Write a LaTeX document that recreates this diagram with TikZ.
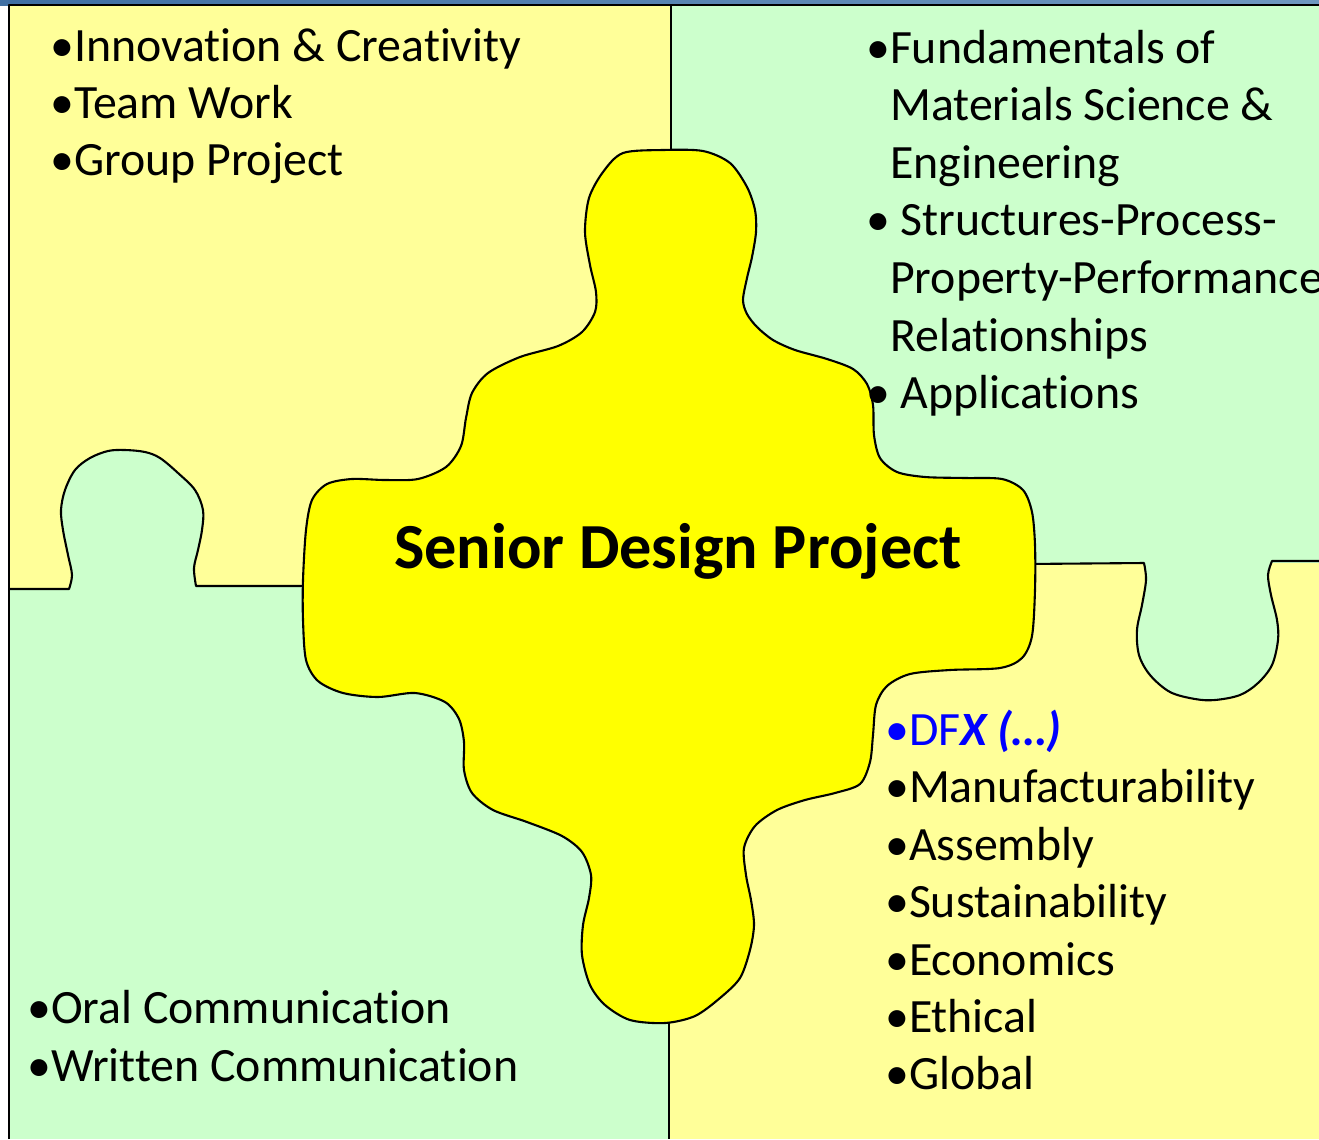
\documentclass[tikz,border=0pt]{standalone}
\usepackage{fontspec}
\setmainfont{Carlito}[Ligatures={NoCommon}]
\definecolor{ltyellow}{HTML}{FFFF99}
\definecolor{ltgreen}{HTML}{CCFFCC}
\definecolor{blobyellow}{HTML}{FFFF00}
\definecolor{dfxblue}{HTML}{0000FF}
\definecolor{stripL}{HTML}{3F6FA3}
\definecolor{stripR}{HTML}{6F98C0}
\tikzset{
  txt/.style={anchor=base west, inner sep=0pt, font=\fontsize{48}{56}\selectfont},
  title/.style={anchor=base west, inner sep=0pt, font=\fontsize{64.5}{70}\selectfont\bfseries},
  edge/.style={line width=2.1bp, line join=round},
}
\begin{document}
\begin{tikzpicture}[x=1bp,y=-1bp]
\useasboundingbox (0,0) rectangle (1319,1139);
\fill[white] (0,0) rectangle (1319,1139);
\shade[left color=stripL, right color=stripR] (0,0) rectangle (1319,5);
% quadrants
\fill[ltyellow] (9,5) rectangle (671,589);
\fill[ltgreen] (671,5) rectangle (1319,563);
\fill[ltgreen] (9,588) rectangle (669,1139);
\fill[ltyellow] (669,563) rectangle (1319,1139);
% left tab (green into yellow)
\fill[ltgreen] plot[smooth, tension=0.55] coordinates {(69,589) (72,575) (68,555) (63,530) (61,510) (65,490) (75,470) (90,458) (108,451) (125,450) (145,452) (160,458) (178,473) (195,490) (203,510) (202,530) (198,550) (194,568) (196,586)} -- (302,586) -- (302,600) -- (69,600) -- cycle;
\draw[edge] (9,589) -- plot[smooth, tension=0.55] coordinates {(69,589) (72,575) (68,555) (63,530) (61,510) (65,490) (75,470) (90,458) (108,451) (125,450) (145,452) (160,458) (178,473) (195,490) (203,510) (202,530) (198,550) (194,568) (196,586)} -- (310,586);
% right tab (green into yellow)
\fill[ltgreen] plot[smooth, tension=0.55] coordinates {(1144,563) (1146,580) (1142,605) (1137,630) (1139,655) (1150,675) (1170,692) (1195,699) (1215,700) (1240,695) (1258,683) (1272,665) (1278,640) (1277,620) (1271,595) (1268,575) (1272,561)} -- (1272,550) -- (1144,550) -- cycle;
\draw[edge] (1025,564) -- plot[smooth, tension=0.55] coordinates {(1144,563) (1146,580) (1142,605) (1137,630) (1139,655) (1150,675) (1170,692) (1195,699) (1215,700) (1240,695) (1258,683) (1272,665) (1278,640) (1277,620) (1271,595) (1268,575) (1272,561)} -- (1319,561);
% borders
\draw[edge] (9,1139) -- (9,5) -- (1319,5);
\draw[edge] (671,5) -- (671,160);
\draw[edge] (669,1010) -- (669,1139);
% central blob
\filldraw[fill=blobyellow, edge] plot[smooth cycle, tension=0.5] coordinates {
(623,153) (663,150) (703,151) (730,163) (747,187) (755,210) (756,232) (752,257) (747,278) (743,300) (747,314) (757,327) (773,340) (795,350) (827,359) (853,369) (867,384) (873,405) (874,435) (880,458) (897,472) (925,477) (965,478) (1002,479) (1023,490) (1032,512) (1035,545) (1035,590) (1032,636) (1022,658) (1000,668) (950,670) (910,674) (887,686) (876,705) (873,735) (870,762) (860,784) (835,793) (805,800) (777,810) (755,826) (744,848) (746,875) (751,900) (754,925) (750,950) (740,978) (720,998) (695,1016) (665,1023) (630,1020) (605,1005) (590,985) (582,955) (583,925) (589,898) (591,875) (582,852) (562,836) (527,822) (493,810) (472,793) (464,770) (464,742) (459,719) (445,702) (415,693) (378,697) (343,693) (318,681) (306,660) (303,620) (303,580) (306,530) (312,500) (327,484) (352,479) (385,480) (418,479) (446,467) (461,446) (466,418) (472,393) (488,373) (520,357) (558,346) (582,332) (595,312) (596,292) (590,265) (585,232) (589,198) (603,172)};
% texts
\node[txt] (tl1) at (50,61) {•Innovation \& Creativity};
\node[txt] (tl2) at (50,118) {•Team Work};
\node[txt] (tl3) at (50,175) {•Group Project};
\node[txt] (tr1) at (866,63) {•Fundamentals of};
\node[txt] (tr2) at (890,120) {Materials Science \&};
\node[txt] (tr3) at (890,178) {Engineering};
\node[txt] (tr4) at (866,235) {• Structures-Process-};
\node[txt] (tr5) at (890,293) {Property-Performance};
\node[txt] (tr6) at (890,351) {Relationships};
\node[txt] (tr7) at (866,408) {• Applications};
\node[title] (center) at (394,568) {Senior Design Project};
\node[txt, text=dfxblue] (br1) at (885,745) {•DF\textbf{\textit{X (…)}}};
\node[txt] (br2) at (885,802) {•Manufacturability};
\node[txt] (br3) at (885,860) {•Assembly};
\node[txt] (br4) at (885,917) {•Sustainability};
\node[txt] (br5) at (885,975) {•Economics};
\node[txt] (br6) at (885,1032) {•Ethical};
\node[txt] (br7) at (885,1089) {•Global};
\node[txt] (bl1) at (27,1023) {•Oral Communication};
\node[txt] (bl2) at (27,1081) {•Written Communication};
\end{tikzpicture}
\end{document}
